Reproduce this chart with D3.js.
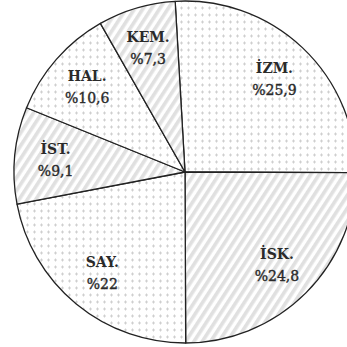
<!DOCTYPE html>
<html>
<head>
<meta charset="utf-8">
<script src="https://cdn.jsdelivr.net/npm/d3@7"></script>
<style>
  html, body { margin: 0; padding: 0; background: #fff; }
</style>
</head>
<body>
<div id="chart"></div>
<script>
// Dilim verileri
const names = ["İZM.", "İSK.", "SAY.", "İST.", "HAL.", "KEM."];
const values = [25.9, 24.8, 22, 9.1, 10.6, 7.3];
const labels = ["%25,9", "%24,8", "%22", "%9,1", "%10,6", "%7,3"];
const fills = ["dots", "stripes", "dots", "stripes", "dots", "stripes"];

const width = 347, height = 347;
const cx = 185, cy = 172, radius = 171;

const svg = d3.select("#chart").append("svg")
    .attr("width", width)
    .attr("height", height);

// Desenler
const defs = svg.append("defs");

const dots = defs.append("pattern")
    .attr("id", "dots")
    .attr("patternUnits", "userSpaceOnUse")
    .attr("width", 7).attr("height", 7);
dots.append("rect").attr("width", 7).attr("height", 7).attr("fill", "#fff");
dots.append("rect").attr("x", 3).attr("y", 2.5).attr("width", 1).attr("height", 3).attr("fill", "#cfcfcf");
dots.append("rect").attr("x", 2).attr("y", 3.5).attr("width", 3).attr("height", 1).attr("fill", "#cfcfcf");

const stripes = defs.append("pattern")
    .attr("id", "stripes")
    .attr("patternUnits", "userSpaceOnUse")
    .attr("width", 7).attr("height", 7)
    .attr("patternTransform", "rotate(33)");
stripes.append("rect").attr("width", 7).attr("height", 7).attr("fill", "#fff");
stripes.append("rect").attr("width", 3.6).attr("height", 7).attr("fill", "#e0e0e0");

const pie = d3.pie()
    .sort(null)
    .value(d => d)
    .startAngle(-3.3 * Math.PI / 180)
    .endAngle((360 - 3.3) * Math.PI / 180);

const arc = d3.arc().innerRadius(0).outerRadius(radius);
const labelArc = d3.arc().innerRadius(130).outerRadius(130);

const arcs = pie(values);

const g = svg.append("g").attr("transform", `translate(${cx},${cy})`);

g.selectAll("path.slice")
    .data(arcs)
    .enter().append("path")
    .attr("class", "slice")
    .attr("d", arc)
    .attr("fill", (d, i) => `url(#${fills[i]})`)
    .attr("stroke", "#222")
    .attr("stroke-width", 1.3)
    .attr("stroke-linejoin", "round");

const lbl = g.selectAll("g.lbl")
    .data(arcs)
    .enter().append("g")
    .attr("class", "lbl")
    .attr("transform", d => `translate(${labelArc.centroid(d)})`);

lbl.append("text")
    .attr("text-anchor", "middle")
    .attr("y", -5)
    .style("font-family", "'DejaVu Serif', serif")
    .style("font-weight", "bold")
    .style("font-size", "14px")
    .attr("fill", "#2a2a2a")
    .text((d, i) => names[i]);

lbl.append("text")
    .attr("text-anchor", "middle")
    .attr("y", 17)
    .style("font-family", "'DejaVu Serif', serif")
    .style("font-size", "14px")
    .attr("fill", "#2a2a2a")
    .attr("stroke", "#2a2a2a")
    .attr("stroke-width", 0.4)
    .text((d, i) => labels[i]);
</script>
</body>
</html>
